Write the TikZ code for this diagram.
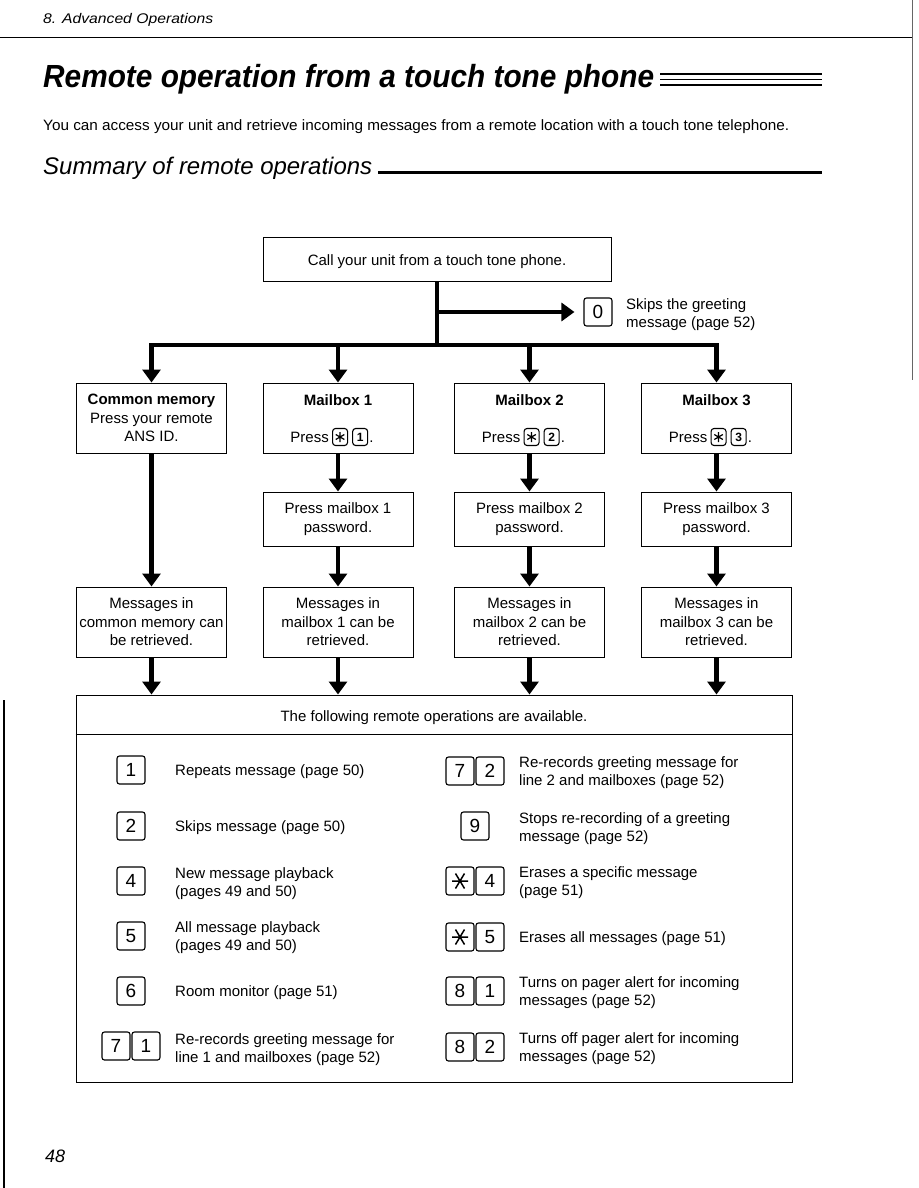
\documentclass[tikz,border=0pt]{standalone}
\usepackage{fontspec}
\setmainfont{Liberation Sans}
\usepackage{graphicx}
\usetikzlibrary{arrows.meta,positioning}
\begin{document}
\begin{tikzpicture}[x=1pt,y=-1pt,
  txt/.style={inner sep=0pt, align=center, font=\fontsize{15}{18.5}\selectfont},
  ltxt/.style={txt, anchor=west, align=left, yshift=-1.5pt},
  btxt/.style={inner sep=0pt, font=\fontsize{15}{18}\selectfont\bfseries},
  box/.style={draw, line width=1pt, minimum width=150pt, inner sep=0pt, align=center, font=\fontsize{15}{18.5}\selectfont},
  arr/.style={line width=4.8pt, -{Triangle[width=18pt,length=13pt]}},
  bar/.style={line width=4.8pt},
  key/.style={draw, line width=1.1pt, rounded corners=2.5pt, minimum width=28pt, minimum height=28pt, inner sep=0pt, font=\fontsize{19}{19}\selectfont},
  skey/.style={draw, line width=1.1pt, rounded corners=3pt, minimum width=15pt, minimum height=17pt, inner sep=0pt, font=\fontsize{12}{12}\selectfont\bfseries},
  astk/.style={path picture={\draw[line width=1.5pt] (path picture bounding box.center) +(-8,0) -- +(8,0) +(-4.5,-7.5) -- +(4.5,7.5) +(-4.5,7.5) -- +(4.5,-7.5);}},
  sastk/.style={path picture={\draw[line width=1.2pt] (path picture bounding box.center) +(0,-5) -- +(0,5) +(-4.3,-2.5) -- +(4.3,2.5) +(-4.3,2.5) -- +(4.3,-2.5);}},
]
\useasboundingbox (0,0) rectangle (918,1188);

% page header and decorations
\node[anchor=base west, inner sep=0pt] (hd) at (43,24) {\resizebox{170pt}{\height}{\fontsize{14}{14}\selectfont\itshape 8. Advanced Operations}};
\draw[line width=0.8pt] (0,37) -- (912,37);
\draw[line width=0.8pt, black!60] (912,0) -- (912,380);
\draw[line width=2.5pt] (4,700) -- (4,1188);

\node[anchor=base west, inner sep=0pt] (title) at (43,88) {\resizebox{611pt}{\height}{\fontsize{32}{32}\selectfont\bfseries\itshape Remote operation from a touch tone phone}};
\draw[line width=1.3pt] (660,74) -- (822,74);
\draw[line width=1.3pt] (660,79.5) -- (822,79.5);
\draw[line width=2.5pt] (660,85) -- (822,85);

\node[anchor=base west, inner sep=0pt] (intro) at (43,131) {\resizebox{746pt}{\height}{\fontsize{15}{15}\selectfont You can access your unit and retrieve incoming messages from a remote location with a touch tone telephone.}};

\node[anchor=base west, inner sep=0pt] (summ) at (43,174) {\resizebox{329pt}{\height}{\fontsize{24}{24}\selectfont\itshape Summary of remote operations}};
\draw[line width=3pt] (378,172) -- (822,172);

% flowchart
\node[box, minimum width=348pt, minimum height=44pt] (top) at (437,259) {\raisebox{-6.5pt}[0pt][0pt]{Call your unit from a touch tone phone.}};
\coordinate (j1) at (437,312);
\coordinate (j2) at (437,345);
\draw[bar] (top.south) -- (j2);
\node[key] (k0) at (598,312) {0};
\draw[arr, shorten >=9pt] (j1) -- (k0.west);
\node[ltxt] (skip) at (626,313) {Skips the greeting\\message (page 52)};

\node[box, minimum height=70pt] (cm) at (151.5,418) {\textbf{Common memory}\\Press your remote\\ANS ID.};
\node[box, minimum height=70pt] (mb1) at (338,418) {};
\node[box, minimum height=70pt] (mb2) at (529.5,418) {};
\node[box, minimum height=70pt] (mb3) at (716.5,418) {};

\draw[arr] (j2) -| (cm.north);
\draw[arr] (j2) -| (mb3.north);
\draw[arr] (mb1.north |- j2) -- (mb1.north);
\draw[arr] (mb2.north |- j2) -- (mb2.north);

\node[btxt] (mb1t) at (338,400) {Mailbox 1};
\node[btxt] (mb2t) at (529.5,400) {Mailbox 2};
\node[btxt] (mb3t) at (716.5,400) {Mailbox 3};

\node[txt, anchor=east] (pr1) at (329,437) {Press};
\node[skey, sastk, right=3pt of pr1] (pr1s) {};
\node[skey, right=4pt of pr1s] (pr1k) {1};
\node[txt, anchor=base west] (pr1d) at ([xshift=1pt]pr1.base -| pr1k.east) {.};

\node[txt, anchor=east] (pr2) at (520.5,437) {Press};
\node[skey, sastk, right=3pt of pr2] (pr2s) {};
\node[skey, right=4pt of pr2s] (pr2k) {2};
\node[txt, anchor=base west] (pr2d) at ([xshift=1pt]pr2.base -| pr2k.east) {.};

\node[txt, anchor=east] (pr3) at (707.5,437) {Press};
\node[skey, sastk, right=3pt of pr3] (pr3s) {};
\node[skey, right=4pt of pr3s] (pr3k) {3};
\node[txt, anchor=base west] (pr3d) at ([xshift=1pt]pr3.base -| pr3k.east) {.};

\node[box, minimum height=54pt] (pw1) at (338,519) {Press mailbox 1\\password.};
\node[box, minimum height=54pt] (pw2) at (529.5,519) {Press mailbox 2\\password.};
\node[box, minimum height=54pt] (pw3) at (716.5,519) {Press mailbox 3\\password.};

\node[box, minimum height=70pt] (m0) at (151.5,622) {Messages in\\common memory can\\be retrieved.};
\node[box, minimum height=70pt] (m1) at (338,622) {Messages in\\mailbox 1 can be\\retrieved.};
\node[box, minimum height=70pt] (m2) at (529.5,622) {Messages in\\mailbox 2 can be\\retrieved.};
\node[box, minimum height=70pt] (m3) at (716.5,622) {Messages in\\mailbox 3 can be\\retrieved.};

\draw[arr] (cm.south) -- (m0.north);
\draw[arr] (mb1.south) -- (pw1.north);
\draw[arr] (mb2.south) -- (pw2.north);
\draw[arr] (mb3.south) -- (pw3.north);
\draw[arr] (pw1.south) -- (m1.north);
\draw[arr] (pw2.south) -- (m2.north);
\draw[arr] (pw3.south) -- (m3.north);

\node[draw, line width=1pt, minimum width=716pt, minimum height=387pt, inner sep=0pt] (big) at (434,888.5) {};
\node[txt, yshift=-1.5pt] (hdr) at (434,716) {The following remote operations are available.};
\path (big.north west) ++(0,40) coordinate (dl);
\path (big.north east) ++(0,40) coordinate (dr);
\draw[line width=1pt] (dl) -- (dr);

\draw[arr] (m0.south) -- (m0.south |- big.north);
\draw[arr] (m1.south) -- (m1.south |- big.north);
\draw[arr] (m2.south) -- (m2.south |- big.north);
\draw[arr] (m3.south) -- (m3.south |- big.north);

% left column
\node[key] (l1) at (131,770) {1};
\node[ltxt] (l1t) at (175,770) {Repeats message (page 50)};
\node[key] (l2) at (131,826) {2};
\node[ltxt] (l2t) at (175,826) {Skips message (page 50)};
\node[key] (l4) at (131,881) {4};
\node[ltxt] (l4t) at (175,882) {New message playback\\(pages 49 and 50)};
\node[key] (l5) at (131,936) {5};
\node[ltxt] (l5t) at (175,936) {All message playback\\(pages 49 and 50)};
\node[key] (l6) at (131,991) {6};
\node[ltxt] (l6t) at (175,991) {Room monitor (page 51)};
\node[key] (l7a) at (116,1046) {7};
\node[key] (l7b) at (146,1046) {1};
\node[ltxt] (l7t) at (175,1048) {Re-records greeting message for\\line 1 and mailboxes (page 52)};

% right column
\node[key] (r1a) at (460,771) {7};
\node[key] (r1b) at (490,771) {2};
\node[ltxt] (r1t) at (519,771) {Re-records greeting message for\\line 2 and mailboxes (page 52)};
\node[key] (r2) at (475,826) {9};
\node[ltxt] (r2t) at (519,827) {Stops re-recording of a greeting\\message (page 52)};
\node[key, astk] (r3a) at (460,881) {};
\node[key] (r3b) at (490,881) {4};
\node[ltxt] (r3t) at (519,881) {Erases a specific message\\(page 51)};
\node[key, astk] (r4a) at (460,937) {};
\node[key] (r4b) at (490,937) {5};
\node[ltxt] (r4t) at (519,937) {Erases all messages (page 51)};
\node[key] (r5a) at (460,991) {8};
\node[key] (r5b) at (490,991) {1};
\node[ltxt] (r5t) at (519,991) {Turns on pager alert for incoming\\messages (page 52)};
\node[key] (r6a) at (460,1047) {8};
\node[key] (r6b) at (490,1047) {2};
\node[ltxt] (r6t) at (519,1047) {Turns off pager alert for incoming\\messages (page 52)};

\node[anchor=base west, inner sep=0pt] (pg) at (45,1162) {\fontsize{18}{18}\selectfont\itshape 48};
\end{tikzpicture}
\end{document}
